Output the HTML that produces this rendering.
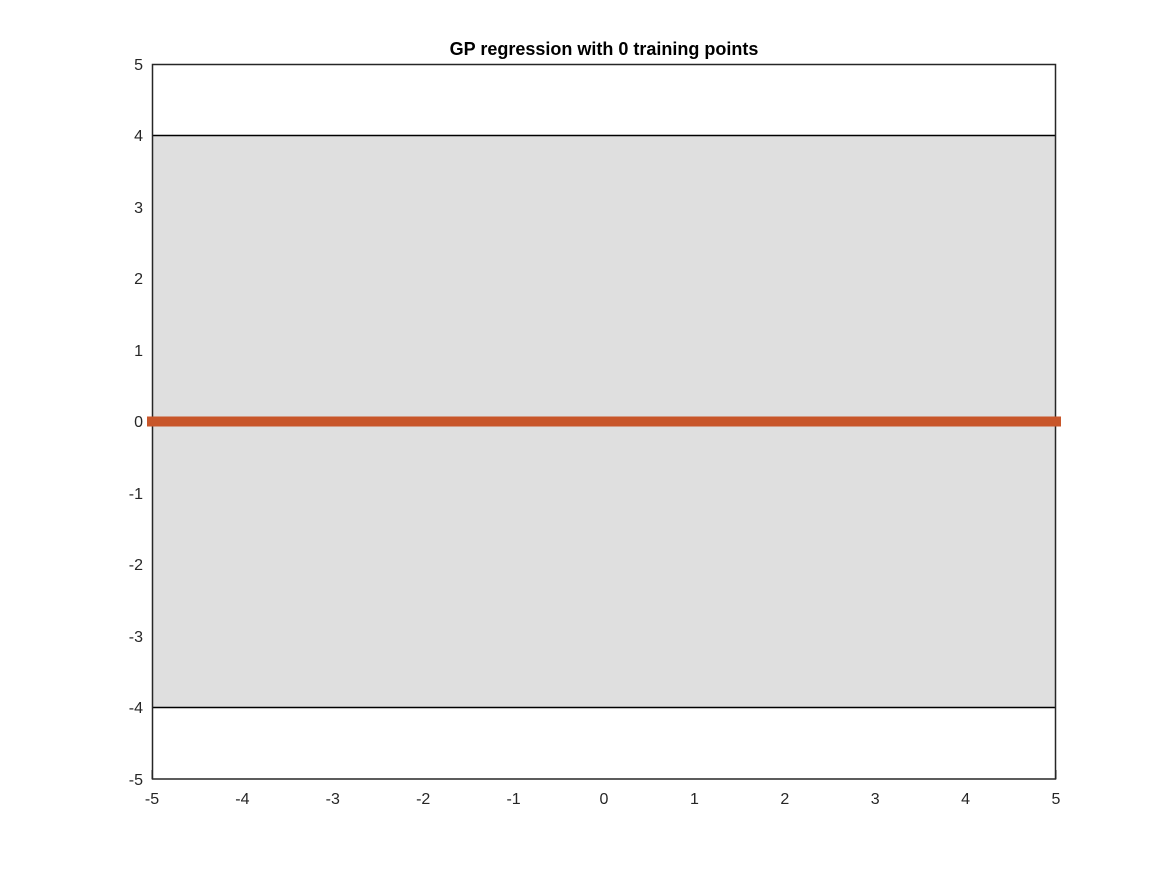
<!DOCTYPE html>
<html><head><meta charset="utf-8"><style>body{margin:0;background:#fff}</style></head><body>
<svg width="1166" height="875" xmlns="http://www.w3.org/2000/svg" font-family="Liberation Sans, sans-serif">
<rect width="1166" height="875" fill="#fff"/>
<rect x="152" y="135.5" width="904" height="572" fill="#dfdfdf"/>
<line x1="152" y1="135.5" x2="1056" y2="135.5" stroke="#000" stroke-width="1.5"/>
<line x1="152" y1="707.5" x2="1056" y2="707.5" stroke="#000" stroke-width="1.5"/>
<rect x="152.5" y="64.5" width="903" height="714.5" fill="none" stroke="#262626" stroke-width="1.5"/>
<line x1="147" y1="421.5" x2="1061" y2="421.5" stroke="#c8562a" stroke-width="10"/>
<g stroke="#262626" stroke-width="1">
<line x1="152" y1="64.5" x2="161" y2="64.5"/><line x1="1056" y1="64.5" x2="1047" y2="64.5"/>
<line x1="152" y1="779" x2="152" y2="770"/><line x1="1056" y1="779" x2="1056" y2="770"/>
</g>
<g font-size="16" fill="#262626" text-anchor="end">
<text x="143" y="70">5</text><text x="143" y="141">4</text><text x="143" y="213">3</text>
<text x="143" y="284">2</text><text x="143" y="356">1</text><text x="143" y="427">0</text>
<text x="143" y="499">-1</text><text x="143" y="570">-2</text><text x="143" y="642">-3</text>
<text x="143" y="713">-4</text><text x="143" y="785">-5</text>
</g>
<g font-size="16" fill="#262626" text-anchor="middle">
<text x="152" y="804">-5</text><text x="242.4" y="804">-4</text><text x="332.8" y="804">-3</text>
<text x="423.2" y="804">-2</text><text x="513.6" y="804">-1</text><text x="604" y="804">0</text>
<text x="694.4" y="804">1</text><text x="784.8" y="804">2</text><text x="875.2" y="804">3</text>
<text x="965.6" y="804">4</text><text x="1056" y="804">5</text>
</g>
<text x="604" y="55" font-size="18" font-weight="bold" text-anchor="middle" fill="#000">GP regression with 0 training points</text>
</svg>
</body></html>
